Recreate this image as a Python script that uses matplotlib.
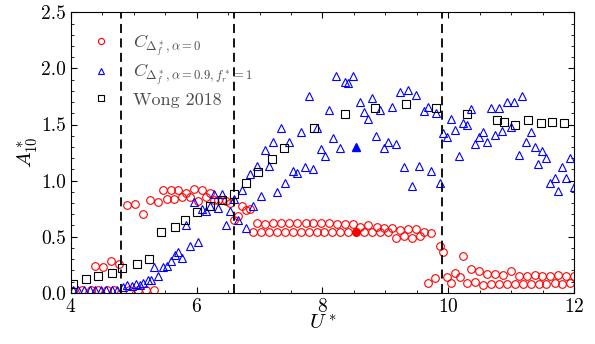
import numpy as np
import matplotlib
matplotlib.use("Agg")
import matplotlib.pyplot as plt
from matplotlib.ticker import MultipleLocator, FormatStrFormatter

plt.rcParams['font.family'] = 'serif'
plt.rcParams['font.serif'] = ['cmr10', 'DejaVu Serif']
plt.rcParams['mathtext.fontset'] = 'cm'
plt.rcParams['axes.formatter.use_mathtext'] = True
plt.rcParams['axes.unicode_minus'] = False

# C_{Delta_f*, alpha=0}  (red circles)
u_a0 = [4.03, 4.18, 4.32, 4.44, 4.57, 4.69, 4.93, 5.06, 5.19, 5.32,
        4.39, 4.51, 4.64, 4.77,
        4.89, 5.02, 5.14, 5.26, 5.39, 5.46, 5.53, 5.59, 5.64, 5.71, 5.77, 5.83,
        5.90, 5.96, 6.02, 6.08, 6.15, 6.21, 6.27, 6.34, 6.40, 6.46, 6.53, 6.59,
        6.65, 6.72, 6.78, 6.84,
        6.96, 7.09, 7.22, 7.34, 7.47, 7.60, 7.73, 7.85, 7.97, 8.10, 8.23, 8.35,
        8.48, 8.60, 8.73, 8.86, 8.98, 9.11, 9.23, 9.36, 9.49, 9.61,
        6.90, 7.03, 7.15, 7.27, 7.41, 7.53, 7.66, 7.78, 7.91, 8.03, 8.15, 8.28,
        8.41, 8.66, 8.79, 8.92, 9.04, 9.17, 9.29, 9.42, 9.55, 9.73,
        9.86, 9.92, 9.67, 9.79, 9.98, 10.05, 10.11, 10.18, 10.23, 10.30, 10.36,
        10.43, 10.49, 10.55, 10.61, 10.68, 10.74, 10.80, 10.87, 10.93, 10.99,
        11.06, 11.12, 11.19, 11.25, 11.31, 11.38, 11.44, 11.49, 11.56, 11.62,
        11.69, 11.75, 11.81, 11.87, 11.94, 11.99]
a_a0 = [0.02, 0.025, 0.025, 0.025, 0.025, 0.025, 0.025, 0.025, 0.025, 0.025,
        0.24, 0.23, 0.28, 0.26,
        0.78, 0.79, 0.70, 0.83, 0.81, 0.92, 0.84, 0.915, 0.84, 0.915, 0.855, 0.885,
        0.85, 0.925, 0.82, 0.92, 0.85, 0.89, 0.83, 0.83, 0.83, 0.82, 0.80, 0.65,
        0.68, 0.77, 0.74, 0.75,
        0.62, 0.61, 0.62, 0.62, 0.62, 0.62, 0.62, 0.62, 0.62, 0.625, 0.61, 0.61,
        0.615, 0.59, 0.60, 0.587, 0.58, 0.58, 0.56, 0.565, 0.565, 0.54,
        0.538, 0.538, 0.538, 0.538, 0.538, 0.538, 0.538, 0.538, 0.538, 0.538,
        0.538, 0.538, 0.538, 0.538, 0.538, 0.538, 0.538, 0.49, 0.51, 0.49,
        0.505, 0.535,
        0.42, 0.36, 0.09, 0.13, 0.14, 0.09, 0.18, 0.14, 0.33, 0.09, 0.21,
        0.095, 0.19, 0.07, 0.17, 0.075, 0.17, 0.08, 0.16, 0.08, 0.19,
        0.08, 0.15, 0.08, 0.15, 0.08, 0.16, 0.075, 0.145, 0.08, 0.15,
        0.09, 0.16, 0.08, 0.15, 0.085, 0.15]

# C_{Delta_f*, alpha=0.9, f_r*=1}  (blue triangles)
u_a09 = [4.03, 4.12, 4.21, 4.30, 4.39, 4.48, 4.56, 4.65, 4.73,
         4.83, 4.89, 4.97, 5.04, 5.10, 5.15, 5.22, 5.27, 5.33, 5.39, 5.46, 5.53,
         5.59, 5.66, 5.71, 5.77, 5.83, 5.90, 5.96, 6.02, 6.08, 6.15, 6.21, 6.27,
         6.34, 6.40, 6.46, 6.53, 6.59, 6.65, 6.72, 6.78, 6.84, 6.90, 6.96, 7.03,
         7.09, 7.15, 7.21, 7.27, 7.34, 7.40, 7.47, 7.53, 7.59, 7.66, 7.72, 7.78,
         7.85, 7.91, 7.97, 8.04, 8.10, 8.16, 8.22, 8.28, 8.35, 8.41, 8.48, 8.60,
         8.66, 8.73, 8.79, 8.85, 8.92, 8.98, 9.04, 9.11, 9.17, 9.23, 9.29, 9.36,
         9.42, 9.48, 9.54, 9.61, 9.67, 9.73, 9.80, 9.86, 9.92, 9.98, 10.05, 10.11,
         10.17, 10.23, 10.30, 10.36, 10.43, 10.49, 10.55, 10.61, 10.68, 10.74,
         10.80, 10.86, 10.93, 10.99, 11.05, 11.12, 11.17, 11.24, 11.31, 11.37,
         11.43, 11.49, 11.56, 11.62, 11.69, 11.74, 11.81, 11.87, 11.94, 11.99]
a_a09 = [0.024, 0.024, 0.024, 0.024, 0.024, 0.024, 0.024, 0.024, 0.024,
         0.053, 0.066, 0.063, 0.078, 0.072, 0.09, 0.11, 0.11, 0.23, 0.15, 0.23, 0.24,
         0.285, 0.34, 0.36, 0.31, 0.60, 0.42, 0.81, 0.455, 0.75, 0.73, 0.775, 0.88,
         0.76, 0.88, 0.60, 0.73, 0.84, 0.65, 0.92, 0.58, 1.06, 0.77, 1.13, 0.86,
         1.27, 1.13, 1.34, 0.90, 1.47, 0.975, 1.34, 1.09, 1.07, 1.43, 1.12, 1.75,
         1.10, 1.465, 1.28, 1.22, 1.63, 1.38, 1.93, 1.29, 1.88, 1.87, 1.93, 1.70,
         1.61, 1.55, 1.74, 1.40, 1.63, 1.29, 1.34, 1.66, 1.33, 1.79, 1.12, 1.81,
         0.95, 1.76, 1.13, 1.62, 1.66, 1.09, 1.60, 0.975, 1.42, 1.385, 1.545, 1.45,
         1.22, 1.51, 1.50, 1.64, 1.33, 1.39, 1.43, 1.34, 1.65, 1.405,
         1.65, 1.44, 1.70, 1.48, 1.70, 1.23, 1.75, 1.34, 1.435, 1.30,
         1.15, 1.26, 1.20, 0.98, 1.02, 0.91, 1.12, 1.025, 1.20, 0.945]

# Wong 2018 (black squares)
u_wong = [4.04, 4.24, 4.44, 4.65, 4.82, 5.05, 5.24, 5.44, 5.66, 5.82, 6.00, 6.21,
          6.41, 6.59, 6.79, 6.98, 7.20, 7.39, 7.86, 8.35, 8.84, 9.32, 9.81, 10.29,
          10.77, 10.88, 11.06, 11.27, 11.47, 11.65, 11.84]
a_wong = [0.08, 0.12, 0.15, 0.18, 0.22, 0.256, 0.30, 0.545, 0.59, 0.65, 0.72, 0.77,
          0.83, 0.88, 0.98, 1.08, 1.19, 1.29, 1.47, 1.59, 1.65, 1.685, 1.65, 1.59,
          1.54, 1.52, 1.50, 1.54, 1.51, 1.52, 1.51]

# highlighted cases
u_sel = 8.54
a_sel_a0 = 0.54
a_sel_a09 = 1.30

# regime boundaries
u_bounds = [4.8, 6.6, 9.9]

fig = plt.figure(figsize=(5.95, 3.44), dpi=100)
ax = fig.add_axes([0.119, 0.149, 0.846, 0.815])

ms = 5.5
ax.plot(u_a0, a_a0, 'o', ms=ms, mfc='none', mec='r', mew=0.8,
        label=r'$C_{\Delta_f^*,\alpha=0}$')
ax.plot(u_a09, a_a09, '^', ms=ms, mfc='none', mec='b', mew=0.8,
        label=r'$C_{\Delta_f^*,\alpha=0.9,f_r^*=1}$')
ax.plot(u_wong, a_wong, 's', ms=ms, mfc='none', mec='k', mew=0.8,
        label='Wong 2018')
ax.plot(u_sel, a_sel_a0, 'o', ms=ms, color='r')
ax.plot(u_sel, a_sel_a09, '^', ms=ms, color='b')

for u in u_bounds:
    ax.axvline(u, color='k', ls=(0, (5, 3)), lw=1.3)

ax.set_xlim(4, 12)
ax.set_ylim(0, 2.5)
ax.xaxis.set_major_locator(MultipleLocator(2))
ax.xaxis.set_minor_locator(MultipleLocator(0.5))
ax.yaxis.set_major_locator(MultipleLocator(0.5))
ax.yaxis.set_minor_locator(MultipleLocator(0.1))
ax.yaxis.set_major_formatter(FormatStrFormatter('%.1f'))
ax.tick_params(which='both', direction='in', top=True, right=True, labelsize=14)
ax.tick_params(which='major', length=4)
ax.tick_params(which='minor', length=2)

ax.set_xlabel(r'$U^*$', fontsize=15, labelpad=-1)
ax.set_ylabel(r'$A^*_{10}$', fontsize=15, labelpad=1)

leg = ax.legend(loc='upper left', bbox_to_anchor=(0.019, 0.955), frameon=False,
                fontsize=13, handlelength=1.5, handletextpad=1.0,
                labelspacing=0.25, borderaxespad=0, numpoints=1, markerscale=0.8)
for t in leg.get_texts():
    t.set_color('0.3')

fig.savefig('out.png', dpi=100)
